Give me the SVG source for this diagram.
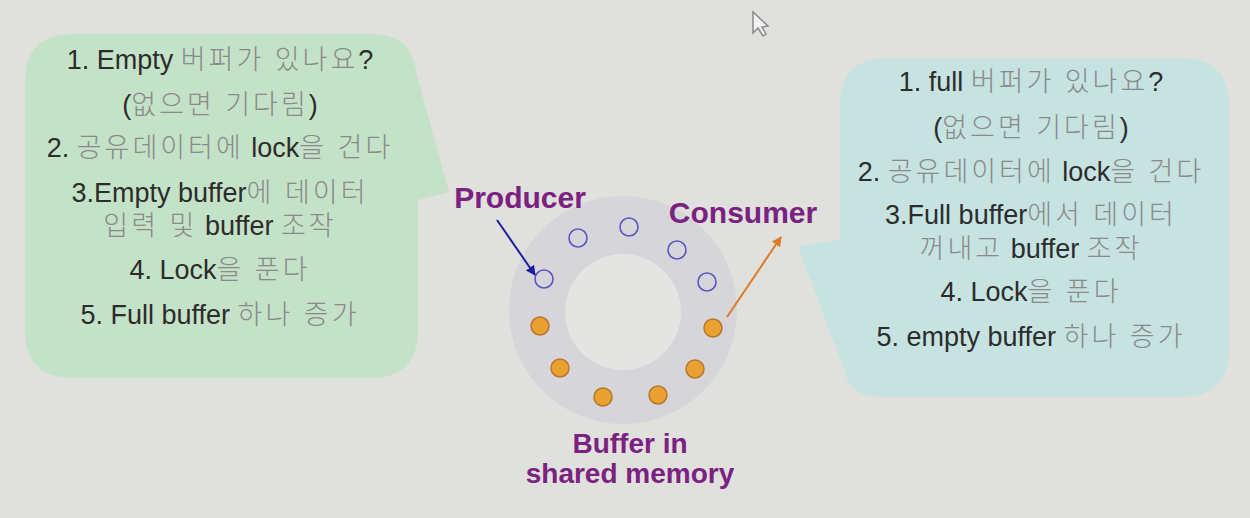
<svg xmlns="http://www.w3.org/2000/svg" width="1250" height="518" viewBox="0 0 1250 518">
<defs>
<style>
.t{font-family:'Liberation Sans','Noto Sans CJK KR',sans-serif;font-size:27px;fill:#2c2c2c;text-anchor:middle}
.k{fill:#8a8a8a;font-weight:300;letter-spacing:3px}
.lbl{font-family:'Liberation Sans',sans-serif;font-weight:bold;font-size:28px;fill:#7a2181;text-anchor:middle}
.big{font-size:30px}
.empty{fill:none;stroke:#5a55c4;stroke-width:1.6}
.full{fill:#e9a131;stroke:#b8782c;stroke-width:1.5}
</style>
<marker id="ab" viewBox="0 0 10 10" refX="9" refY="5" markerWidth="5" markerHeight="5" orient="auto"><path d="M0,0 L10,5 L0,10 Z" fill="#1c1ca0"/></marker>
<marker id="ao" viewBox="0 0 10 10" refX="9" refY="5" markerWidth="5" markerHeight="5" orient="auto"><path d="M0,0 L10,5 L0,10 Z" fill="#e07a22"/></marker>
</defs>
<rect width="1250" height="518" fill="#e0e0dd"/>

<g id="producer-bubble">
<path d="M73,34 H372 Q412,34 416,72 L449,192 L418,200 V330 Q418,378 370,378 H73 Q25,378 25,330 V82 Q25,34 73,34 Z" fill="#c4e2c7"/>
<text class="t" x="220" y="69">1. Empty <tspan class="k">버퍼가 있나요</tspan>?</text>
<text class="t" x="220" y="114">(<tspan class="k">없으면 기다림</tspan>)</text>
<text class="t" x="220" y="157">2. <tspan class="k">공유데이터에</tspan> lock<tspan class="k">을 건다</tspan></text>
<text class="t" x="220" y="202">3.Empty buffer<tspan class="k">에 데이터</tspan></text>
<text class="t" x="220" y="235"><tspan class="k">입력 및</tspan> buffer <tspan class="k">조작</tspan></text>
<text class="t" x="220" y="279">4. Lock<tspan class="k">을 푼다</tspan></text>
<text class="t" x="220" y="324">5. Full buffer <tspan class="k">하나 증가</tspan></text>
</g>

<g id="consumer-bubble">
<path d="M888,58 H1181 Q1229,58 1229,106 V349 Q1229,397 1181,397 H882 Q850,397 845,372 L798,246 L840,240 V106 Q840,58 888,58 Z" fill="#c6e3e1"/>
<text class="t" x="1031" y="91">1. full <tspan class="k">버퍼가 있나요</tspan>?</text>
<text class="t" x="1031" y="137">(<tspan class="k">없으면 기다림</tspan>)</text>
<text class="t" x="1031" y="181">2. <tspan class="k">공유데이터에</tspan> lock<tspan class="k">을 건다</tspan></text>
<text class="t" x="1031" y="224">3.Full buffer<tspan class="k">에서 데이터</tspan></text>
<text class="t" x="1031" y="258"><tspan class="k">꺼내고</tspan> buffer <tspan class="k">조작</tspan></text>
<text class="t" x="1031" y="301">4. Lock<tspan class="k">을 푼다</tspan></text>
<text class="t" x="1031" y="346">5. empty buffer <tspan class="k">하나 증가</tspan></text>
</g>

<g id="buffer">
<circle cx="623" cy="310" r="114" fill="#d5d5da"/>
<circle cx="623" cy="312" r="58" fill="#e4e4e2"/>
<circle class="empty" cx="544" cy="279" r="9"/>
<circle class="empty" cx="578" cy="238" r="9"/>
<circle class="empty" cx="629" cy="227" r="9"/>
<circle class="empty" cx="677" cy="250" r="9"/>
<circle class="empty" cx="707" cy="282" r="9"/>
<circle class="full" cx="540" cy="326" r="9"/>
<circle class="full" cx="560" cy="368" r="9"/>
<circle class="full" cx="603" cy="397" r="9"/>
<circle class="full" cx="658" cy="395" r="9"/>
<circle class="full" cx="695" cy="369" r="9"/>
<circle class="full" cx="713" cy="328" r="9"/>
<text class="lbl" x="630" y="453">Buffer in</text>
<text class="lbl" x="630" y="483">shared memory</text>
</g>

<g id="producer-label"><text class="lbl big" x="520" y="208">Producer</text></g>
<g id="consumer-label"><text class="lbl big" x="743" y="223">Consumer</text></g>

<g id="connectors">
<line x1="497" y1="220" x2="535" y2="275" stroke="#1c1ca0" stroke-width="2" marker-end="url(#ab)"/>
<line x1="727" y1="317" x2="781" y2="237" stroke="#e07a22" stroke-width="2" marker-end="url(#ao)"/>
</g>

<g id="cursor">
<path d="M753,12 L753,33 L758,28 L763,36 L766,34 L762,27 L768,26 Z" fill="#f2f2f2" stroke="#8a8a8a" stroke-width="1.5"/>
</g>
</svg>
